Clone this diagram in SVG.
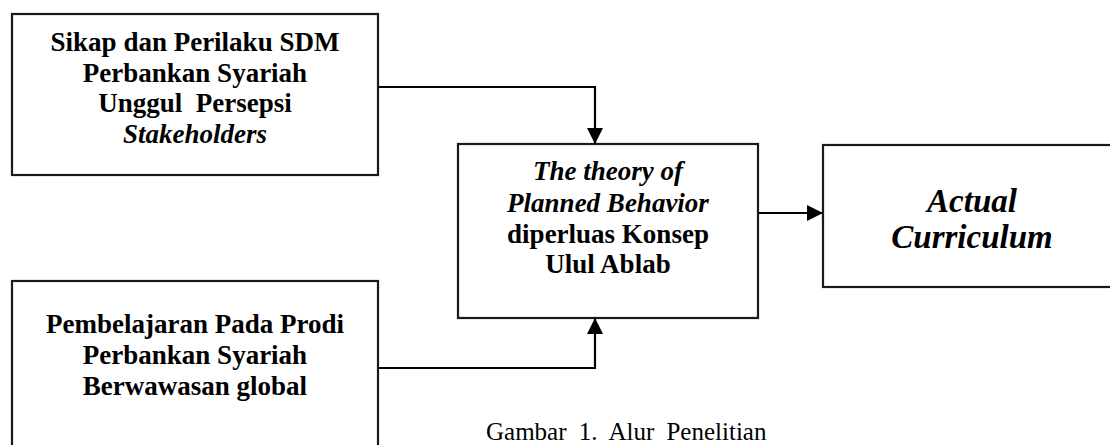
<svg xmlns="http://www.w3.org/2000/svg" width="1110" height="445" viewBox="0 0 1110 445">
  <style>
    .box { fill: #ffffff; stroke: #1a1a1a; stroke-width: 2.2; }
    .t { font-family: "Liberation Serif", "Times New Roman", serif; font-weight: bold; font-size: 27px; fill: #000; text-anchor: middle; }
    .i { font-style: italic; }
    .big { font-size: 33px; }
    .cap { font-family: "Liberation Serif", "Times New Roman", serif; font-size: 25px; fill: #000; }
    .conn { fill: none; stroke: #000; stroke-width: 2.2; }
  </style>
  <defs>
    <marker id="arr" markerUnits="userSpaceOnUse" markerWidth="16" markerHeight="16" viewBox="0 0 16 16" refX="16" refY="8" orient="auto">
      <path d="M0,0 L16,8 L0,16 Z" fill="#000"/>
    </marker>
  </defs>
  <rect width="1110" height="445" fill="#ffffff"/>

  <g id="node-sikap">
    <rect class="box" x="12" y="14" width="366" height="161"/>
    <text class="t" x="195" y="51">Sikap dan Perilaku SDM</text>
    <text class="t" x="195" y="82">Perbankan Syariah</text>
    <text class="t" x="195" y="112" xml:space="preserve">Unggul  Persepsi</text>
    <text class="t i" x="195" y="143">Stakeholders</text>
  </g>

  <g id="node-pembelajaran">
    <rect class="box" x="12" y="281" width="366" height="180"/>
    <text class="t" x="195" y="333">Pembelajaran Pada Prodi</text>
    <text class="t" x="195" y="364">Perbankan Syariah</text>
    <text class="t" x="195" y="395">Berwawasan global</text>
  </g>

  <g id="node-theory">
    <rect class="box" x="458" y="144" width="300" height="174"/>
    <text class="t i" x="608" y="180">The theory of</text>
    <text class="t i" x="608" y="212">Planned Behavior</text>
    <text class="t" x="608" y="243">diperluas Konsep</text>
    <text class="t" x="608" y="273">Ulul Ablab</text>
  </g>

  <g id="node-actual">
    <rect class="box" x="823" y="145" width="310" height="142"/>
    <text class="t i big" x="972" y="212">Actual</text>
    <text class="t i big" x="972" y="248">Curriculum</text>
  </g>

  <g id="connectors">
    <path class="conn" d="M378,87 H595 V144" marker-end="url(#arr)"/>
    <path class="conn" d="M378,368 H595 V318" marker-end="url(#arr)"/>
    <path class="conn" d="M758,213 H823" marker-end="url(#arr)"/>
  </g>

  <g id="caption">
    <text class="cap" x="486" y="440" word-spacing="6">Gambar 1. Alur Penelitian</text>
  </g>
</svg>
